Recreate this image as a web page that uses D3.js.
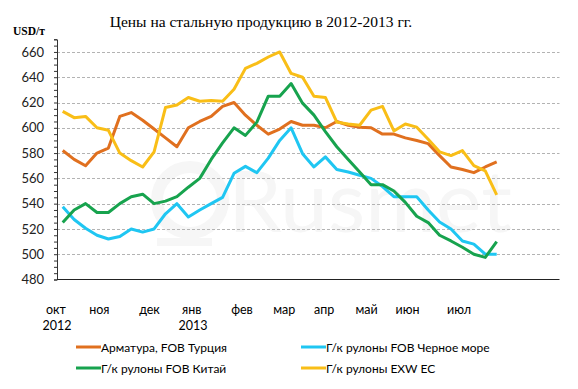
<!DOCTYPE html>
<html>
<head>
<meta charset="utf-8">
<script src="https://cdn.jsdelivr.net/npm/d3@7"></script>
<style>
  body { margin: 0; background: #fff; }
  svg { display: block; }
</style>
</head>
<body>
<svg width="578" height="389"></svg>
<script>
// weekly prices, USD/t, Oct 2012 - Jul 2013
const rebarTurkey = [582, 575, 570, 580, 584, 609, 612, 606, 599, 592, 585, 600, 605, 609, 617, 620, 610, 602,
  595, 599, 605, 602, 602, 600, 605, 602, 600.5, 600, 595, 595, 592, 590, 587.5, 578, 569, 567, 564.5, 569, 573];
const hrcBlackSea = [537.5, 527.5, 520.5, 515, 512, 514, 520, 517.5, 520, 532, 540, 529.5, 535, 540, 545, 564,
  569.5, 564.5, 576, 590, 600, 579.5, 569, 577, 567, 565, 562.5, 560, 553.5, 545.5, 545.5, 545.5, 535, 525.5,
  520, 510.5, 508, 500, 500];
const hrcChina = [525, 535, 540, 533, 533, 540, 545.5, 547.5, 540, 542, 545.5, 553, 560, 575, 588, 600, 594,
  604.5, 625, 625, 635, 619.5, 610, 597, 585, 575, 565, 555, 555, 550, 541, 530, 525, 515, 510.5, 505.5, 500,
  497.5, 510];
const hrcEU = [613, 608, 609, 600, 598, 580, 574, 569, 581, 616, 618, 624, 621, 621.5, 621, 630.5, 647, 651,
  656, 660, 643, 640, 625, 624, 604.5, 603, 602, 614, 617, 597.5, 603, 600.5, 591, 581, 578, 582, 570, 566, 547];

const seriesNames = ['Арматура, FOB Турция', 'Г/к рулоны FOB Черное море', 'Г/к рулоны FOB Китай', 'Г/к рулоны EXW ЕС'];
const seriesColors = ['#E0701F', '#1FC6F2', '#17A34E', '#F9BE17'];
const seriesData = [rebarTurkey, hrcBlackSea, hrcChina, hrcEU];

const monthLabels = ['окт', 'ноя', 'дек', 'янв', 'фев', 'мар', 'апр', 'май', 'июн', 'июл'];
const monthPos = [-0.6, 3.2, 7.6, 11.3, 15.7, 19.4, 22.9, 26.6, 30.2, 34.7]; // in weeks
const yearLabels = ['2012', '2013'];
const yearPos = [-0.5, 11.4];
const yTicks = [480, 500, 520, 540, 560, 580, 600, 620, 640, 660];

const svg = d3.select('svg');
const font = 'Lato, "Open Sans", sans-serif';

const x = d3.scaleLinear().domain([-0.5, 43.5]).range([57, 559.5]);
const y = d3.scaleLinear().domain([480, 670]).range([279.5, 39.3]);

// watermark
const wmColor = '#f6f6f6';
const wm = svg.append('g').attr('fill', wmColor).attr('stroke', 'none');
wm.append('circle').attr('cx', 190).attr('cy', 200).attr('r', 33)
  .attr('fill', 'none').attr('stroke', wmColor).attr('stroke-width', 12);
wm.append('rect').attr('x', 157).attr('y', 238).attr('width', 55).attr('height', 8);
wm.append('text').attr('x', 228).attr('y', 232).attr('font-family', font)
  .attr('font-size', 86).text('Rusmet');

// title
svg.append('text')
  .attr('x', 261).attr('y', 27)
  .attr('text-anchor', 'middle')
  .attr('font-family', '"Liberation Serif", serif')
  .attr('font-size', 15.5)
  .text('Цены на стальную продукцию в 2012-2013 гг.');

svg.append('text')
  .attr('x', 13).attr('y', 35)
  .attr('font-family', '"Liberation Serif", serif')
  .attr('font-weight', 'bold')
  .attr('font-size', 11.5)
  .text('USD/т');

// grid
svg.append('g')
  .selectAll('line')
  .data(yTicks.filter((d) => d > 480))
  .join('line')
  .attr('x1', x.range()[0]).attr('x2', x.range()[1])
  .attr('y1', (d) => Math.round(y(d)) + 0.5).attr('y2', (d) => Math.round(y(d)) + 0.5)
  .attr('stroke', '#b3b3b3')
  .attr('stroke-dasharray', '3,2');

// y axis
const yAxis = svg.append('g')
  .attr('transform', `translate(${x.range()[0]},0)`)
  .call(d3.axisLeft(y).tickValues(d3.range(480, 671, 5)).tickSize(3).tickFormat((d) => (yTicks.includes(d) ? d : '')));
yAxis.select('.domain').attr('stroke', '#333');
yAxis.selectAll('.tick line').attr('stroke', '#333');
yAxis.selectAll('.tick text')
  .attr('font-family', font).attr('font-size', 13).attr('fill', '#222').attr('x', -13);

// x axis line
svg.append('line')
  .attr('x1', x.range()[0]).attr('x2', x.range()[1])
  .attr('y1', y(480)).attr('y2', y(480))
  .attr('stroke', '#222').attr('stroke-width', 1.2);

svg.append('g')
  .selectAll('text')
  .data(monthLabels)
  .join('text')
  .attr('x', (d, i) => x(monthPos[i]))
  .attr('y', 314)
  .attr('text-anchor', 'middle')
  .attr('font-family', font).attr('font-size', 12.5)
  .text((d) => d);

svg.append('g')
  .selectAll('text')
  .data(yearLabels)
  .join('text')
  .attr('x', (d, i) => x(yearPos[i]))
  .attr('y', 330)
  .attr('text-anchor', 'middle')
  .attr('font-family', font).attr('font-size', 12.5)
  .text((d) => d);

// lines
const line = d3.line().x((d, i) => x(i)).y((d) => y(d));
svg.append('g')
  .selectAll('path')
  .data(seriesData)
  .join('path')
  .attr('d', line)
  .attr('fill', 'none')
  .attr('stroke', (d, i) => seriesColors[i])
  .attr('stroke-width', 3)
  .attr('stroke-linejoin', 'round');

// legend
const legend = svg.append('g');
const legendPos = [[76, 347], [301, 347], [76, 368], [301, 368]];
const item = legend.selectAll('g')
  .data(seriesNames)
  .join('g')
  .attr('transform', (d, i) => `translate(${legendPos[i][0]},${legendPos[i][1]})`);
item.append('line')
  .attr('x1', 0).attr('x2', 25)
  .attr('stroke', (d, i) => seriesColors[i])
  .attr('stroke-width', 3);
item.append('text')
  .attr('x', 25).attr('y', 4.5)
  .attr('font-family', font).attr('font-size', 12)
  .text((d) => d);
</script>
</body>
</html>
